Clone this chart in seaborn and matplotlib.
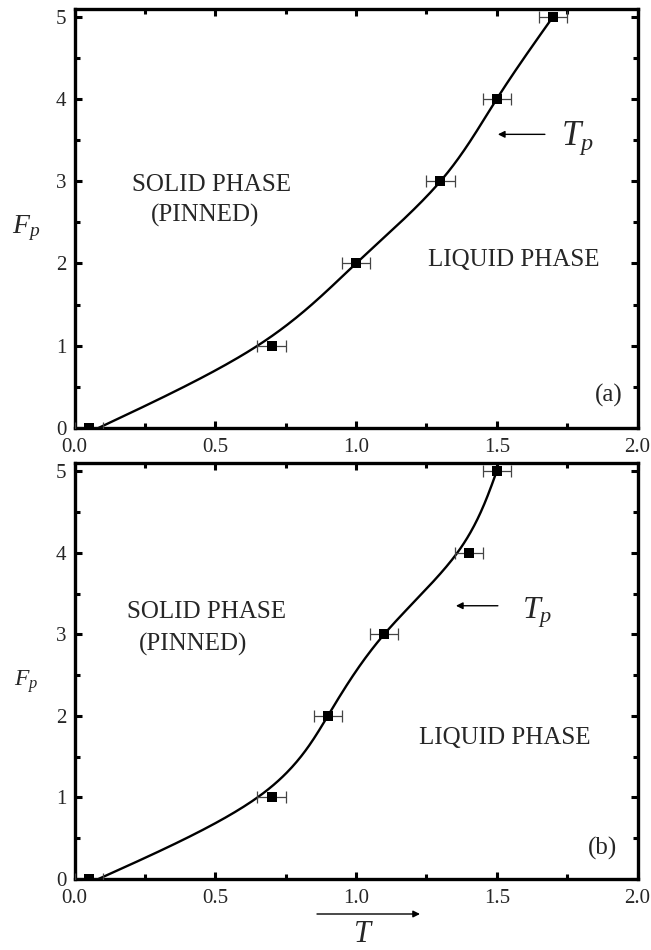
import numpy as np
import pandas as pd
import matplotlib
matplotlib.use("Agg")
import matplotlib.pyplot as plt
import seaborn as sns

# Measured melting points (T, F_p) with horizontal uncertainty
fp_levels = [0, 1, 2, 3, 4, 5]
t_a = [0.05, 0.70, 1.00, 1.30, 1.50, 1.70]
t_b = [0.05, 0.70, 0.90, 1.10, 1.40, 1.50]
t_err = [0.05, 0.05, 0.05, 0.05, 0.05, 0.05]

# Guide-to-the-eye phase boundary knots (T as a function of F_p)
curve_f_a = [0.0, 1.0, 2.0, 3.0, 4.0, 5.0]
curve_t_a = [0.085, 0.65, 1.00, 1.30, 1.50, 1.70]
curve_f_b = [0.0, 1.0, 2.0, 3.0, 4.0, 5.0]
curve_t_b = [0.085, 0.65, 0.90, 1.10, 1.36, 1.50]

x_ticks = [0.0, 0.5, 1.0, 1.5, 2.0]
x_ticklabels = ["0.0", "0.5", "1.0", "1.5", "2.0"]
y_ticks = [0, 1, 2, 3, 4, 5]


def natural_spline(xk, yk, xs):
    """Natural cubic spline through the knots, evaluated at xs."""
    xk = np.asarray(xk, float)
    yk = np.asarray(yk, float)
    n = len(xk)
    h = np.diff(xk)
    A = np.zeros((n, n))
    b = np.zeros(n)
    A[0, 0] = 1.0
    A[-1, -1] = 1.0
    for i in range(1, n - 1):
        A[i, i - 1] = h[i - 1]
        A[i, i] = 2 * (h[i - 1] + h[i])
        A[i, i + 1] = h[i]
        b[i] = 6 * ((yk[i + 1] - yk[i]) / h[i] - (yk[i] - yk[i - 1]) / h[i - 1])
    m = np.linalg.solve(A, b)
    idx = np.clip(np.searchsorted(xk, xs) - 1, 0, n - 2)
    x0, x1 = xk[idx], xk[idx + 1]
    hh = h[idx]
    return (m[idx] * (x1 - xs) ** 3 / (6 * hh)
            + m[idx + 1] * (xs - x0) ** 3 / (6 * hh)
            + (yk[idx] / hh - m[idx] * hh / 6) * (x1 - xs)
            + (yk[idx + 1] / hh - m[idx + 1] * hh / 6) * (xs - x0))


sns.set_theme(style="ticks")
plt.rcParams["font.family"] = ["Liberation Serif", "DejaVu Serif"]
plt.rcParams["mathtext.fontset"] = "custom"
plt.rcParams["mathtext.rm"] = "Liberation Serif"
plt.rcParams["mathtext.it"] = "Liberation Serif:italic"

W, H = 651, 950
fig = plt.figure(figsize=(W / 100, H / 100), dpi=100)
fig.patch.set_facecolor("white")

ax_a = fig.add_axes([74.5 / W, 1 - 428 / H, 563 / W, (428 - 8.5) / H])
ax_b = fig.add_axes([74.5 / W, 1 - 879 / H, 563 / W, (879 - 463) / H])

panels = [
    (ax_a, t_a, curve_f_a, curve_t_a),
    (ax_b, t_b, curve_f_b, curve_t_b),
]

for ax, t_pts, cf, ct in panels:
    ax.set_facecolor("white")
    fs = np.linspace(cf[0], cf[-1], 300)
    ts = natural_spline(cf, ct, fs)
    curve = pd.DataFrame({"T": ts, "F": fs})
    sns.lineplot(data=curve, x="T", y="F", sort=False, estimator=None,
                 color="black", linewidth=1.7, ax=ax, zorder=3)
    ax.errorbar(t_pts, fp_levels, xerr=t_err, fmt="none", ecolor="#444444",
                elinewidth=0.9, capsize=4.5, capthick=0.9, zorder=4)
    pts = pd.DataFrame({"T": t_pts, "F": fp_levels})
    sns.scatterplot(data=pts, x="T", y="F", marker="s", s=60, color="black",
                    edgecolor="black", linewidth=0, ax=ax, zorder=5)

    ax.set_xlim(0, 2.0)
    ax.set_ylim(0, 5.1)
    ax.set_xticks(x_ticks)
    ax.set_xticklabels(x_ticklabels)
    ax.set_yticks(y_ticks)
    ax.set_xticks([0.25, 0.75, 1.25, 1.75], minor=True)
    ax.set_yticks([0.5, 1.5, 2.5, 3.5, 4.5], minor=True)
    ax.tick_params(which="both", direction="in", top=True, right=True,
                   labeltop=False, labelright=False, width=2.2, color="black")
    ax.tick_params(which="major", length=5, labelsize=15, pad=7)
    ax.tick_params(which="minor", length=3.5)
    ax.tick_params(axis="y", pad=6)
    ax.set_xlabel("")
    ax.set_ylabel("")
    for sp in ax.spines.values():
        sp.set_visible(True)
        sp.set_linewidth(2.4)
        sp.set_color("black")

# Panel (a) annotations
ax_a.text(0.488, 2.95, "SOLID PHASE", fontsize=18, ha="center", va="center")
ax_a.text(0.464, 2.59, "(PINNED)", fontsize=18, ha="center", va="center")
ax_a.text(1.561, 2.04, "LIQUID PHASE", fontsize=18, ha="center", va="center")
ax_a.annotate("", xy=(1.504, 3.57), xytext=(1.671, 3.57),
              arrowprops=dict(arrowstyle="-|>", color="black", lw=1.0,
                              mutation_scale=10, shrinkA=0, shrinkB=0))
ax_a.text(1.73, 3.52, "$T_p$", fontsize=25, ha="left", va="center")
ax_a.text(1.946, 0.39, "(a)", fontsize=18, ha="right", va="center")

# Panel (b) annotations
ax_b.text(0.47, 3.27, "SOLID PHASE", fontsize=18, ha="center", va="center")
ax_b.text(0.42, 2.87, "(PINNED)", fontsize=18, ha="center", va="center")
ax_b.text(1.53, 1.73, "LIQUID PHASE", fontsize=18, ha="center", va="center")
ax_b.annotate("", xy=(1.355, 3.35), xytext=(1.504, 3.35),
              arrowprops=dict(arrowstyle="-|>", color="black", lw=1.0,
                              mutation_scale=10, shrinkA=0, shrinkB=0))
ax_b.text(1.59, 3.27, "$T_p$", fontsize=23, ha="left", va="center")
ax_b.text(1.927, 0.37, "(b)", fontsize=18, ha="right", va="center")

# Axis labels
fig.text(12 / W, 1 - 228 / H, "$F_p$", fontsize=20, ha="left", va="center")
fig.text(14 / W, 1 - 682 / H, "$F_p$", fontsize=17, ha="left", va="center")
fig.text(363 / W, 1 - 934 / H, "$T$", fontsize=22, ha="center", va="center")
fig.patches.append(matplotlib.patches.FancyArrowPatch(
    (317 / W, 1 - 914 / H), (420 / W, 1 - 914 / H),
    transform=fig.transFigure, arrowstyle="-|>", mutation_scale=10,
    color="black", lw=1.0, shrinkA=0, shrinkB=0))

fig.savefig("out.png", dpi=100, facecolor="white")
